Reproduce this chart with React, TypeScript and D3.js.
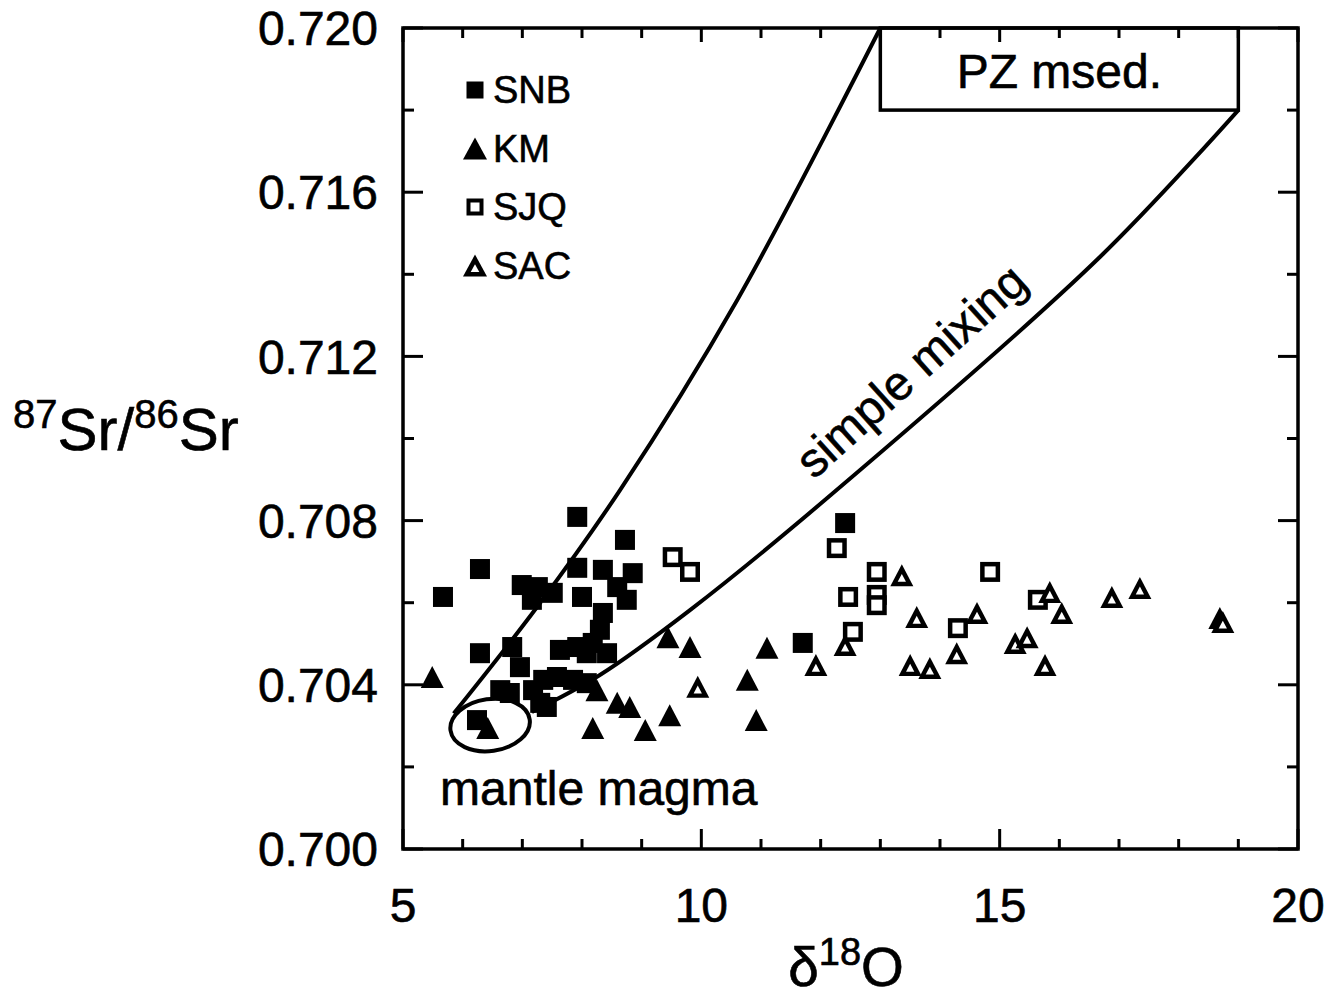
import React from "react";
import * as d3 from "d3";

const W = 1335;
const H = 1003;

// Data series [δ18O, 87Sr/86Sr]
const snb: [number, number][] = [
  [7.92, 0.70809], [8.72, 0.70753], [6.29, 0.70682], [5.67, 0.70614],
  [6.99, 0.70643], [7.26, 0.70638], [7.51, 0.70624], [7.16, 0.70607],
  [7.92, 0.70685], [8.0, 0.70614], [8.35, 0.7068], [8.85, 0.70672],
  [8.59, 0.70638], [8.75, 0.70607], [8.35, 0.70575], [8.3, 0.70534],
  [8.18, 0.70502], [6.29, 0.70477], [6.83, 0.70492], [6.96, 0.70443],
  [7.63, 0.70485], [7.92, 0.70492], [8.42, 0.70477], [8.08, 0.70477],
  [6.63, 0.70387], [6.79, 0.7038], [7.18, 0.70387], [7.35, 0.70412],
  [7.58, 0.70419], [7.85, 0.70412], [8.08, 0.70404], [7.41, 0.70346],
  [7.3, 0.70356], [6.24, 0.70314], [11.7, 0.70502], [12.41, 0.70794],
];

const km: [number, number][] = [
  [5.49, 0.70419], [9.44, 0.70516], [9.81, 0.70492], [8.25, 0.70387],
  [8.59, 0.70356], [8.8, 0.70346], [8.18, 0.70295], [9.06, 0.7029],
  [9.47, 0.70326], [6.42, 0.70295], [11.1, 0.7049], [10.77, 0.70412],
  [10.92, 0.70314], [18.69, 0.70563],
];

const sjq: [number, number][] = [
  [9.52, 0.70711], [9.81, 0.70675], [12.27, 0.70733], [12.94, 0.70675],
  [12.46, 0.70614], [12.94, 0.70619], [12.94, 0.70594], [12.54, 0.70529],
  [14.3, 0.70538], [14.84, 0.70675], [15.64, 0.70607],
];

const sac: [number, number][] = [
  [9.94, 0.70395], [13.36, 0.70667], [13.61, 0.70565], [14.62, 0.70575],
  [14.28, 0.70477], [12.41, 0.70497], [11.92, 0.70448], [13.5, 0.70448],
  [13.83, 0.70441], [15.84, 0.70626], [16.04, 0.70575], [15.26, 0.70502],
  [15.46, 0.70516], [15.76, 0.70448], [16.88, 0.70614], [17.35, 0.70636],
  [18.74, 0.70553],
];

// Mixing envelope curves
const leftCurve: [number, number][] = [
  [5.85, 0.7033], [7.25, 0.7059], [8.64, 0.70875], [10.6, 0.71337], [13, 0.72],
];
const rightCurve: [number, number][] = [
  [19, 0.718], [16.68, 0.71442], [12.11, 0.70855], [9.81, 0.70582],
  [8.3, 0.70424], [7.16, 0.70334],
];
const mantleEllipse = { cx: 6.46, cy: 0.70302, dx: 0.67, dy: 0.000633 };
const pzBox = { x0: 13, x1: 19, y0: 0.718, y1: 0.72 };

const xTicksMajor = [5, 10, 15, 20];
const xTicksMinor = d3.range(6, 20, 1).filter((v) => v % 5 !== 0);
const yTicksMajor = [0.7, 0.704, 0.708, 0.712, 0.716, 0.72];
const yTicksMinor = [0.702, 0.706, 0.71, 0.714, 0.718];

const legendItems = ["SNB", "KM", "SJQ", "SAC"];

const FONT = "'Liberation Sans', Arial, Helvetica, sans-serif";

const x = d3.scaleLinear().domain([5, 20]).range([403, 1298]);
const y = d3.scaleLinear().domain([0.7, 0.72]).range([849, 28]);

function triPath(cx: number, cy: number, w: number, h: number) {
  return `M${cx},${cy - h / 2}L${cx + w / 2},${cy + h / 2}L${cx - w / 2},${cy + h / 2}Z`;
}

function FilledSquare({ cx, cy, s = 20 }: any) {
  return <rect x={cx - s / 2} y={cy - s / 2} width={s} height={s} fill="#000" />;
}
function OpenSquare({ cx, cy, s = 20, inner = 11 }: any) {
  return (
    <g>
      <rect x={cx - s / 2} y={cy - s / 2} width={s} height={s} fill="#000" />
      <rect x={cx - inner / 2} y={cy - inner / 2} width={inner} height={inner} fill="#fff" />
    </g>
  );
}
function FilledTri({ cx, cy, w = 23, h = 22 }: any) {
  return <path d={triPath(cx, cy, w, h)} fill="#000" />;
}
function OpenTri({ cx, cy, w = 23, h = 22 }: any) {
  const k = 0.36;
  const icy = cy + h * 0.12;
  return (
    <g>
      <path d={triPath(cx, cy, w, h)} fill="#000" />
      <path d={triPath(cx, icy, w * k, h * k)} fill="#fff" />
    </g>
  );
}

const TXT = { fill: "#000", stroke: "#000", strokeWidth: 0.6 };

export default function App() {
  const line = d3
    .line<[number, number]>()
    .x((d) => x(d[0]))
    .y((d) => y(d[1]))
    .curve(d3.curveCatmullRom.alpha(0.5));

  const ex = x(mantleEllipse.cx);
  const ey = y(mantleEllipse.cy);
  const erx = x(mantleEllipse.cx + mantleEllipse.dx) - ex;
  const ery = y(mantleEllipse.cy) - y(mantleEllipse.cy + mantleEllipse.dy);

  const left = 403, right = 1298, top = 28, bottom = 849;

  const legendX = 475;
  const legendY0 = 90;
  const legendDy = 58.5;

  return (
    <div style={{ position: "absolute", left: 0, top: 0 }}>
      <svg width={W} height={H} style={{ display: "block", background: "#fff" }} fontFamily={FONT}>
        <rect x={0} y={0} width={W} height={H} fill="#fff" />

        {/* PZ msed box */}
        <rect
          x={x(pzBox.x0)}
          y={y(pzBox.y1)}
          width={x(pzBox.x1) - x(pzBox.x0)}
          height={y(pzBox.y0) - y(pzBox.y1)}
          fill="none"
          stroke="#000"
          strokeWidth={3.5}
        />
        <text x={(x(pzBox.x0) + x(pzBox.x1)) / 2} y={88} fontSize={48} textAnchor="middle" {...TXT}>
          PZ msed.
        </text>

        {/* mixing curves */}
        <path d={line(leftCurve) || ""} fill="none" stroke="#000" strokeWidth={4} />
        <path d={line(rightCurve) || ""} fill="none" stroke="#000" strokeWidth={4} />
        <ellipse
          cx={ex}
          cy={ey}
          rx={erx}
          ry={ery}
          fill="none"
          stroke="#000"
          strokeWidth={4}
          transform={`rotate(-8 ${ex} ${ey})`}
        />

        <text
          fontSize={48}
          textAnchor="middle"
          transform={`translate(922,383) rotate(-42)`}
          {...TXT}
        >
          simple mixing
        </text>
        <text x={440} y={805} fontSize={48} {...TXT}>
          mantle magma
        </text>

        {/* points */}
        {snb.map((d, i) => (
          <FilledSquare key={"snb" + i} cx={x(d[0])} cy={y(d[1])} />
        ))}
        {km.map((d, i) => (
          <FilledTri key={"km" + i} cx={x(d[0])} cy={y(d[1])} />
        ))}
        {sjq.map((d, i) => (
          <OpenSquare key={"sjq" + i} cx={x(d[0])} cy={y(d[1])} />
        ))}
        {sac.map((d, i) => (
          <OpenTri key={"sac" + i} cx={x(d[0])} cy={y(d[1])} />
        ))}

        {/* frame */}
        <rect x={left} y={top} width={right - left} height={bottom - top} fill="none" stroke="#000" strokeWidth={3.5} />

        {/* x ticks */}
        {xTicksMajor.map((v) => (
          <g key={"xM" + v}>
            <line x1={x(v)} x2={x(v)} y1={bottom} y2={bottom - 20} stroke="#000" strokeWidth={3} />
            <line x1={x(v)} x2={x(v)} y1={top} y2={top + 14} stroke="#000" strokeWidth={3} />
            <text x={x(v)} y={922} fontSize={48} textAnchor="middle" {...TXT}>
              {v}
            </text>
          </g>
        ))}
        {xTicksMinor.map((v) => (
          <g key={"xm" + v}>
            <line x1={x(v)} x2={x(v)} y1={bottom} y2={bottom - 10} stroke="#000" strokeWidth={3} />
            <line x1={x(v)} x2={x(v)} y1={top} y2={top + 10} stroke="#000" strokeWidth={3} />
          </g>
        ))}

        {/* y ticks */}
        {yTicksMajor.map((v) => (
          <g key={"yM" + v}>
            <line x1={left} x2={left + 20} y1={y(v)} y2={y(v)} stroke="#000" strokeWidth={3} />
            <line x1={right} x2={right - 20} y1={y(v)} y2={y(v)} stroke="#000" strokeWidth={3} />
            <text x={378} y={y(v)} dy="0.36em" fontSize={48} textAnchor="end" {...TXT}>
              {d3.format(".3f")(v)}
            </text>
          </g>
        ))}
        {yTicksMinor.map((v) => (
          <g key={"ym" + v}>
            <line x1={left} x2={left + 11} y1={y(v)} y2={y(v)} stroke="#000" strokeWidth={3} />
            <line x1={right} x2={right - 11} y1={y(v)} y2={y(v)} stroke="#000" strokeWidth={3} />
          </g>
        ))}

        {/* axis titles */}
        <text x={13} y={450} fontSize={60} {...TXT}>
          <tspan fontSize={40} dy={-22}>87</tspan>
          <tspan dy={22}>Sr/</tspan>
          <tspan fontSize={40} dy={-22}>86</tspan>
          <tspan dy={22}>Sr</tspan>
        </text>
        <text x={846} y={986} fontSize={55} textAnchor="middle" {...TXT}>
          <tspan>δ</tspan>
          <tspan fontSize={38} dy={-21}>18</tspan>
          <tspan dy={21}>O</tspan>
        </text>

        {/* legend */}
        {legendItems.map((name, i) => {
          const cy = legendY0 + i * legendDy;
          let sym;
          if (i === 0) sym = <FilledSquare cx={legendX} cy={cy} s={17} />;
          else if (i === 1) sym = <FilledTri cx={legendX} cy={cy} w={24} h={22} />;
          else if (i === 2) sym = <OpenSquare cx={legendX} cy={cy} s={17} inner={9} />;
          else sym = <OpenTri cx={legendX} cy={cy} w={24} h={22} />;
          return (
            <g key={name}>
              {sym}
              <text x={493} y={cy + 13} fontSize={38} {...TXT}>
                {name}
              </text>
            </g>
          );
        })}
      </svg>
    </div>
  );
}
